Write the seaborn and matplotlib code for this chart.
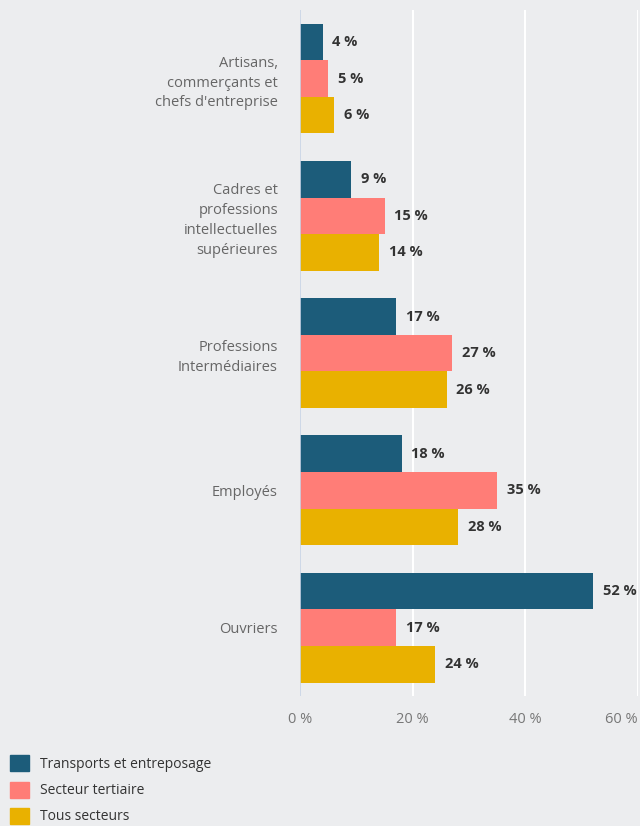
import matplotlib.pyplot as plt
import matplotlib.patches as mpatches
import pandas as pd
import seaborn as sns

sns.set_theme(style="white")
plt.rcParams["font.family"] = ["Open Sans", "DejaVu Sans"]

categories = [
    "Artisans,\ncommerçants et\nchefs d'entreprise",
    "Cadres et\nprofessions\nintellectuelles\nsupérieures",
    "Professions\nIntermédiaires",
    "Employés",
    "Ouvriers",
]
series = ["Transports et entreposage", "Secteur tertiaire", "Tous secteurs"]
transports = [4, 9, 17, 18, 52]
tertiaire = [5, 15, 27, 35, 17]
tous = [6, 14, 26, 28, 24]
x_ticks = [0, 20, 40, 60]

colors = ["#1c5c7a", "#ff7d77", "#e9b100"]
bg = "#ecedef"

df = pd.DataFrame({
    "categorie": categories * 3,
    "serie": [s for s in series for _ in categories],
    "valeur": transports + tertiaire + tous,
})

fig = plt.figure(figsize=(6.4, 8.26), dpi=100, facecolor=bg)
ax = fig.add_axes([0.469, 0.157, 0.528, 0.831], facecolor=bg)

sns.barplot(data=df, y="categorie", x="valeur", hue="serie", order=categories,
            hue_order=series, palette=colors, orient="h", width=0.8,
            saturation=1, legend=False, linewidth=0, ax=ax)

for cont in ax.containers:
    ax.bar_label(cont, labels=[f"{v:.0f} %" for v in cont.datavalues],
                 padding=7, fontsize=10.5, fontweight="bold", color="#333333")

ax.set_xlim(0, 60)
ax.set_ylim(4.5, -0.5)
ax.set_xticks(x_ticks)
ax.set_xticklabels([f"{t} %" for t in x_ticks], color="#777777", fontsize=10.5)
ax.get_xticklabels()[-1].set_horizontalalignment("right")
ax.tick_params(axis="x", length=0, pad=11)
ax.tick_params(axis="y", length=0, pad=16, labelsize=10.5, labelcolor="#666666")
for lbl in ax.get_yticklabels():
    lbl.set_horizontalalignment("right")
    lbl.set_multialignment("right")
    lbl.set_linespacing(1.45)
for t in x_ticks[1:]:
    ax.axvline(t, color="white", lw=1.5, zorder=0)
ax.axvline(0, color="#c9d4e6", lw=1.2, zorder=3)
for s in ax.spines.values():
    s.set_visible(False)
ax.set_xlabel("")
ax.set_ylabel("")

handles = [mpatches.Patch(color=c, label=s) for c, s in zip(colors, series)]
fig.legend(handles=handles, loc="lower left", bbox_to_anchor=(-0.004, -0.013),
           frameon=False, fontsize=10, handlelength=1.4, handleheight=1.4,
           handletextpad=0.8, labelspacing=0.68, labelcolor="#333333")

fig.savefig("out.png", dpi=100, facecolor=bg)
